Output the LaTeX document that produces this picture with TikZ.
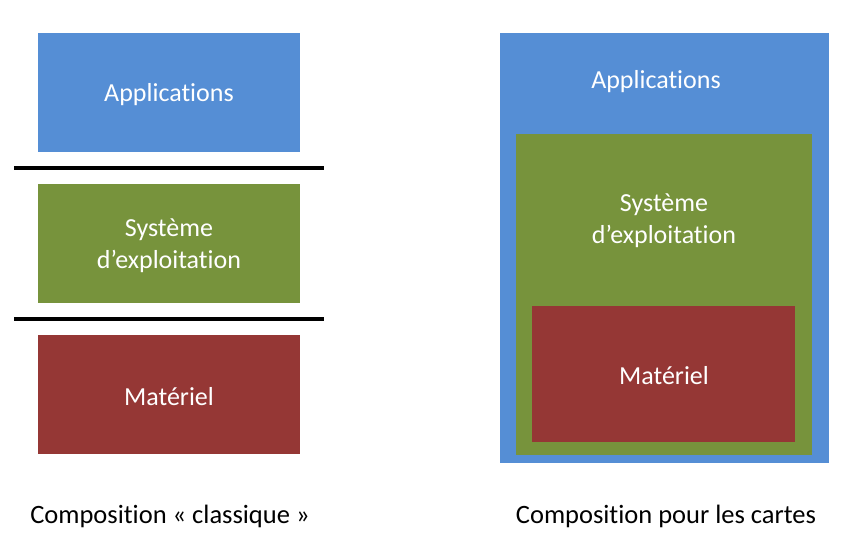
\documentclass[tikz,border=0pt]{standalone}
\usepackage{fontspec}
\setmainfont{Carlito}[Ligatures=NoCommon]
\definecolor{appblue}{RGB}{85,142,213}
\definecolor{osgreen}{RGB}{119,147,60}
\definecolor{hwred}{RGB}{149,55,53}
\begin{document}
\begin{tikzpicture}[x=1pt,y=-1pt,
  lbl/.style={text=white, font=\fontsize{26}{32}\selectfont, align=center},
  captext/.style={text=black, font=\fontsize{26.5}{30}\selectfont},
  sepline/.style={line width=4pt, black}]
\useasboundingbox (0,0) rectangle (850,555);
% left column
\fill[appblue] (38,33) rectangle (300,152);
\fill[osgreen] (38,184) rectangle (300,303);
\fill[hwred] (38,335) rectangle (300,454);
\node[lbl] (la) at (169,95) {Applications};
\node[lbl] (ls) at (169,246) {Système\\d’exploitation};
\node[lbl] (lm) at (169,397) {Matériel};
\coordinate (s1a) at (14,168); \coordinate (s1b) at (324,168);
\coordinate (s2a) at (14,319); \coordinate (s2b) at (324,319);
\draw[sepline] (s1a) -- (s1b);
\draw[sepline] (s2a) -- (s2b);
% right column
\fill[appblue] (500,33) rectangle (829,463);
\fill[osgreen] (516,134) rectangle (812,455);
\fill[hwred] (532,306) rectangle (795,442);
\node[lbl] (ra) at (656,82) {Applications};
\node[lbl] (rs) at (664,221) {Système\\d’exploitation};
\node[lbl] (rm) at (664,376) {Matériel};
% captions
\node[captext] (c1) at (170,516) {Composition « classique »};
\node[captext] (c2) at (666,516) {Composition pour les cartes};
\end{tikzpicture}
\end{document}
